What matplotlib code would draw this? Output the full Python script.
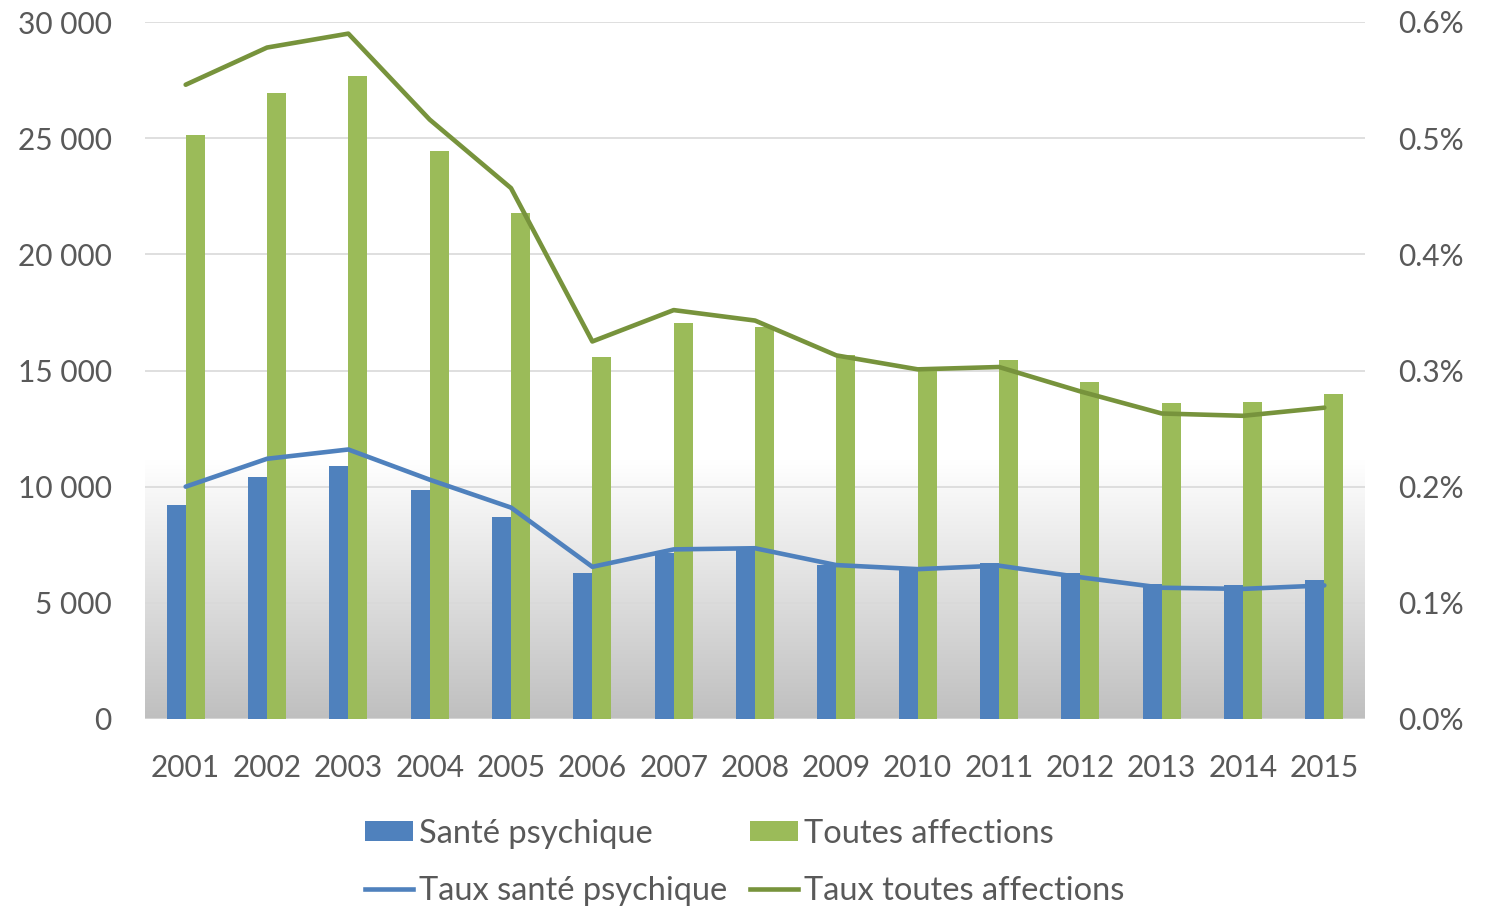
import matplotlib
matplotlib.use("Agg")
import matplotlib.pyplot as plt
import numpy as np
from matplotlib.ticker import FuncFormatter, MultipleLocator
from matplotlib.patches import Patch
from matplotlib.lines import Line2D

years = ["2001", "2002", "2003", "2004", "2005", "2006", "2007", "2008",
         "2009", "2010", "2011", "2012", "2013", "2014", "2015"]
sante_psy = [9210, 10420, 10890, 9860, 8700, 6290, 7150, 7400,
             6630, 6500, 6710, 6290, 5810, 5770, 5980]
toutes_aff = [25140, 26950, 27680, 24450, 21780, 15580, 17050, 16880,
              15670, 15110, 15450, 14500, 13600, 13650, 13990]
taux_psy = [0.200, 0.224, 0.232, 0.206, 0.182, 0.131, 0.146, 0.147,
            0.1325, 0.129, 0.132, 0.122, 0.113, 0.112, 0.115]
taux_all = [0.546, 0.578, 0.590, 0.516, 0.457, 0.325, 0.352, 0.343,
            0.313, 0.301, 0.303, 0.282, 0.263, 0.261, 0.268]

blue = "#4f81bd"
green = "#9bbb59"
green_line = "#77933c"
txt = "#595959"
FONT = "Lato"
FS = 21.5
LFS = 23.5

plt.rcParams['font.family'] = [FONT, 'DejaVu Sans']

fig = plt.figure(figsize=(14.87, 9.08), dpi=100)
ax = fig.add_axes([145/1487, 1 - 719/908, 1220/1487, (719-22)/908])
ax2 = ax.twinx()

x = np.arange(len(years))
w = 0.235

# gradient background
grad = np.ones((300, 1, 3))
t = np.linspace(0, 1, 300)  # 0 bottom -> 1 top
frac = np.clip(1 - t / 0.37, 0, 1)
lvl = 1 - frac * (1 - 0.75)
grad[:, 0, 0] = lvl
grad[:, 0, 1] = lvl
grad[:, 0, 2] = lvl
ax.imshow(grad, extent=[0, 1, 0, 1], transform=ax.transAxes, origin='lower',
          aspect='auto', zorder=0, interpolation='bilinear')

ax.bar(x - w/2, sante_psy, width=w, color=blue, zorder=2)
ax.bar(x + w/2, toutes_aff, width=w, color=green, zorder=2)

ax2.plot(x, taux_psy, color=blue, lw=3.3, solid_capstyle='round', zorder=3)
ax2.plot(x, taux_all, color=green_line, lw=3.3, solid_capstyle='round', zorder=3)

ax.set_xlim(-0.5, len(years) - 0.5)
ax.set_ylim(0, 30000)
ax2.set_ylim(0, 0.6)
ax.yaxis.set_major_locator(MultipleLocator(5000))
ax2.yaxis.set_major_locator(MultipleLocator(0.1))
ax.yaxis.set_major_formatter(FuncFormatter(lambda v, p: f"{int(v):,}".replace(",", " ")))
ax2.yaxis.set_major_formatter(FuncFormatter(lambda v, p: f"{v:.1f}%"))
ax.set_xticks(x)
ax.set_xticklabels(years)

ax.set_axisbelow(True)
ax.yaxis.grid(True, color="#d9d9d9", lw=1.2)
for a in (ax, ax2):
    for s in a.spines.values():
        s.set_visible(False)
    a.tick_params(length=0, labelsize=FS, labelcolor=txt)
ax.tick_params(axis='x', pad=25)
ax.tick_params(axis='y', pad=24)
ax2.tick_params(axis='y', pad=24)

handles = [Patch(facecolor=blue), Line2D([], [], color=blue, lw=3.3),
           Patch(facecolor=green), Line2D([], [], color=green_line, lw=3.3)]
labels = ["Santé psychique", "Taux santé psychique",
          "Toutes affections", "Taux toutes affections"]
leg = fig.legend(handles, labels, ncol=2, loc='upper center',
                 bbox_to_anchor=(745/1487, 1 - 812/908), frameon=False,
                 fontsize=LFS, handlelength=1.45, handleheight=0.6,
                 handletextpad=0.2, columnspacing=0.7, labelspacing=0.85,
                 borderaxespad=0, borderpad=0.2)
for t_ in leg.get_texts():
    t_.set_color(txt)

fig.savefig("out.png", dpi=100)
